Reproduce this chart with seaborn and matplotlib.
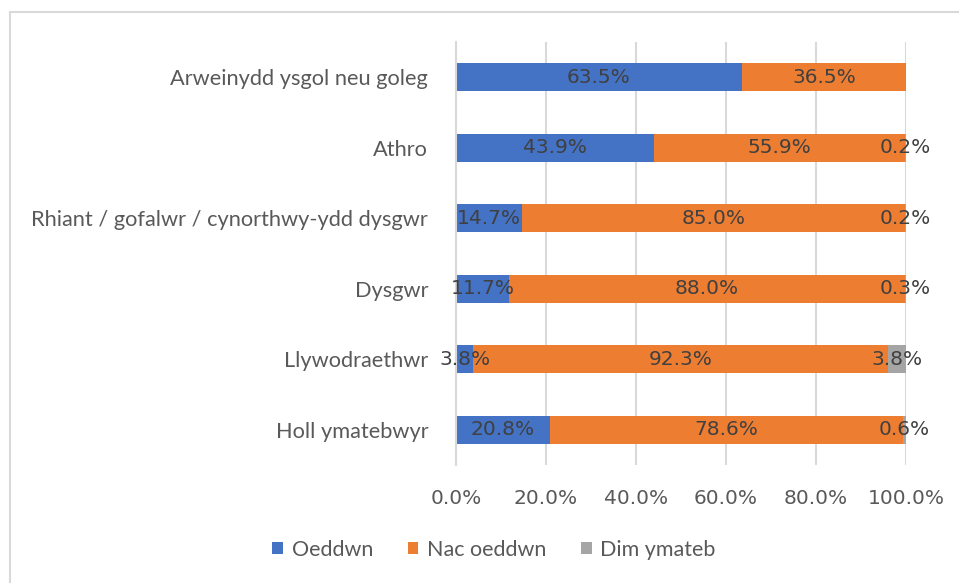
import matplotlib
matplotlib.use("Agg")
import matplotlib.pyplot as plt
import seaborn as sns
import pandas as pd
import numpy as np
from matplotlib.patches import Patch
from matplotlib.lines import Line2D

categories = ["Arweinydd ysgol neu goleg", "Athro", "Rhiant / gofalwr / cynorthwy-ydd dysgwr",
              "Dysgwr", "Llywodraethwr", "Holl ymatebwyr"]
oeddwn = [63.5, 43.9, 14.7, 11.7, 3.8, 20.8]
nac_oeddwn = [36.5, 55.9, 85.0, 88.0, 92.3, 78.6]
dim_ymateb = [0.0, 0.2, 0.2, 0.3, 3.8, 0.6]
series_names = ["Oeddwn", "Nac oeddwn", "Dim ymateb"]
xticks = [0, 20, 40, 60, 80, 100]

colors = ["#4472C4", "#ED7D31", "#A5A5A5"]

sns.set_theme(style="white")
plt.rcParams["font.family"] = ["Lato", "DejaVu Sans"]
num_font = ["DejaVu Sans"]

df = pd.DataFrame({"cat": categories, "s1": oeddwn, "s2": nac_oeddwn, "s3": dim_ymateb})
df["c1"] = df["s1"]
df["c2"] = df["s1"] + df["s2"]
df["c3"] = df["c2"] + df["s3"]

fig = plt.figure(figsize=(9.59, 5.83), dpi=100)
ax = fig.add_axes([456/959, 1-465/583, 450/959, 423/583])

# draw overlapping cumulative bars (total first)
for col, color in zip(["c3", "c2", "c1"], colors[::-1]):
    sns.barplot(data=df, y="cat", x=col, color=color, orient="h", width=0.4,
                ax=ax, saturation=1, linewidth=0, zorder=3)

ax.set_xlim(0, 100)
ax.set_xticks(xticks)
ax.set_xticklabels([f"{v:.1f}%" for v in xticks], family=num_font, fontsize=14.5)
ax.set_xlabel("")
ax.set_ylabel("")
ax.grid(axis="x", color="#D9D9D9", linewidth=1.5, zorder=0)
ax.grid(axis="y", visible=False)
for s in ["top", "right", "bottom"]:
    ax.spines[s].set_visible(False)
ax.spines["left"].set_color("#D9D9D9")
ax.spines["left"].set_linewidth(1.5)
ax.spines["left"].set_zorder(4)
ax.tick_params(axis="both", length=0, labelcolor="#595959")
ax.tick_params(axis="y", pad=20, labelsize=15.7)
ax.tick_params(axis="x", pad=17)

# data labels
for i in range(len(categories)):
    starts = [0, df["c1"][i], df["c2"][i]]
    vals = [df["s1"][i], df["s2"][i], df["s3"][i]]
    for st, v in zip(starts, vals):
        if v > 0:
            ax.text(st + v/2, i, f"{v:.1f}%", ha="center", va="center",
                    fontsize=14.5, family=num_font, color="#404040", zorder=5)

handles = [Patch(facecolor=c, edgecolor="none") for c in colors]
fig.legend(handles, series_names, loc="center", bbox_to_anchor=(494/959, 1-550/583),
           ncol=3, frameon=False, fontsize=15.5, handlelength=0.5, handleheight=0.5,
           handletextpad=0.4, columnspacing=1.6, labelcolor="#595959")

# outer border (top and left visible)
fig.add_artist(Line2D([10/959, 1], [1-12/583, 1-12/583], color="#D9D9D9", linewidth=1.5,
                      transform=fig.transFigure))
fig.add_artist(Line2D([10/959, 10/959], [0, 1-12/583], color="#D9D9D9", linewidth=1.5,
                      transform=fig.transFigure))

fig.savefig("out.png", dpi=100)
